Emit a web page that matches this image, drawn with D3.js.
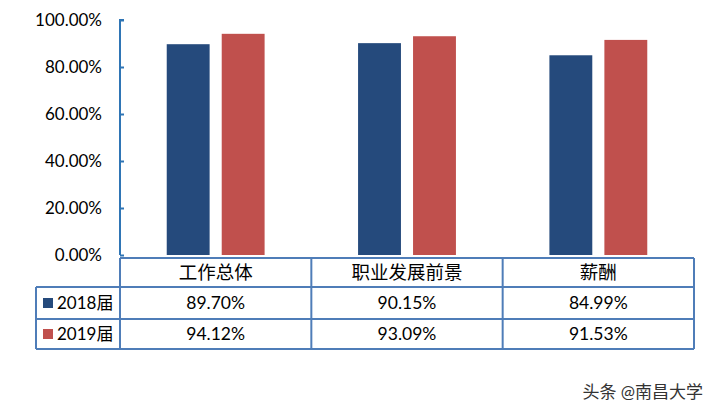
<!DOCTYPE html>
<html><head><meta charset="utf-8">
<script src="https://cdn.jsdelivr.net/npm/d3@7"></script>
<style>
body{margin:0;background:#fff;}
text{font-family:Lato,"Noto Sans CJK SC",sans-serif;}
</style></head>
<body><svg id="c" width="716" height="414"></svg>
<script>
const categories = ["工作总体","职业发展前景","薪酬"];
const seriesNames = ["2018届","2019届"];
const values2018 = [89.70, 90.15, 84.99];
const values2019 = [94.12, 93.09, 91.53];
const yTicks = [0,20,40,60,80,100];
const colors = ["#254A7C","#C0504D"];

const svg = d3.select("#c");
const pLeft = 120, pRight = 694, pTop = 20, pBottom = 255;
const x = d3.scaleBand().domain(categories).range([pLeft,pRight]);
const inner = d3.scaleBand().domain(seriesNames).range([0,x.bandwidth()]).paddingInner(0.22).paddingOuter(0.85);
const y = d3.scaleLinear().domain([0,100]).range([pBottom,pTop]);

const series = [values2018, values2019];
series.forEach((vals,si)=>{
  svg.append("g").selectAll("rect").data(vals).join("rect")
    .attr("x",(d,i)=>x(categories[i])+inner(seriesNames[si]))
    .attr("width",inner.bandwidth())
    .attr("y",d=>y(d))
    .attr("height",d=>y(0)-y(d))
    .attr("fill",colors[si]);
});

// y axis
const ax = svg.append("g").attr("transform",`translate(${pLeft},0)`)
  .call(d3.axisRight(y).tickValues(yTicks).tickSize(4).tickFormat(""));
ax.selectAll("path,line").attr("stroke","#2F75B5").attr("stroke-width",2);
ax.select("path").attr("d",`M4,${y(100)}H0V${y(0)}`);
svg.append("g").selectAll("text").data(yTicks).join("text")
  .attr("x",102).attr("y",d=>y(d)).attr("dy","0.35em")
  .attr("text-anchor","end").attr("font-size",17).attr("fill","#000")
  .text(d=>d3.format(".2f")(d)+"%");

// table
const tTop = 258, rowH = [29,32,30];
const rowY = [tTop, tTop+rowH[0], tTop+rowH[0]+rowH[1], tTop+rowH[0]+rowH[1]+rowH[2]];
const legL = 36;
const bc = "#4F7DB8";
const tg = svg.append("g").attr("stroke",bc).attr("stroke-width",2).attr("fill","none");
tg.append("line").attr("x1",pLeft).attr("x2",pRight).attr("y1",rowY[0]).attr("y2",rowY[0]);
[1,2,3].forEach(r=>tg.append("line").attr("x1",legL).attr("x2",pRight).attr("y1",rowY[r]).attr("y2",rowY[r]));
tg.append("line").attr("x1",legL).attr("x2",legL).attr("y1",rowY[1]).attr("y2",rowY[3]);
categories.forEach(c=>tg.append("line").attr("x1",x(c)).attr("x2",x(c)).attr("y1",rowY[0]).attr("y2",rowY[3]));
tg.append("line").attr("x1",pRight).attr("x2",pRight).attr("y1",rowY[0]).attr("y2",rowY[3]);

svg.append("g").selectAll("text").data(categories).join("text")
  .attr("x",c=>x(c)+x.bandwidth()/2).attr("y",(rowY[0]+rowY[1])/2).attr("dy","0.36em")
  .attr("text-anchor","middle").attr("font-size",18.5).attr("fill","#000").text(c=>c);

series.forEach((vals,si)=>{
  const cy = (rowY[si+1]+rowY[si+2])/2;
  svg.append("rect").attr("x",43).attr("y",cy-5).attr("width",10).attr("height",10).attr("fill",colors[si]);
  svg.append("text").attr("x",57).attr("y",cy).attr("dy","0.36em").attr("font-size",17).attr("fill","#000").text(seriesNames[si]);
  svg.append("g").selectAll("text").data(vals).join("text")
    .attr("x",(d,i)=>x(categories[i])+x.bandwidth()/2).attr("y",cy).attr("dy","0.36em")
    .attr("text-anchor","middle").attr("font-size",17.5).attr("fill","#000")
    .text(d=>d3.format(".2f")(d)+"%");
});

svg.append("text").attr("x",703).attr("y",398).attr("text-anchor","end")
  .attr("font-size",17).attr("fill","#333").text("头条 @南昌大学");
</script></body></html>
